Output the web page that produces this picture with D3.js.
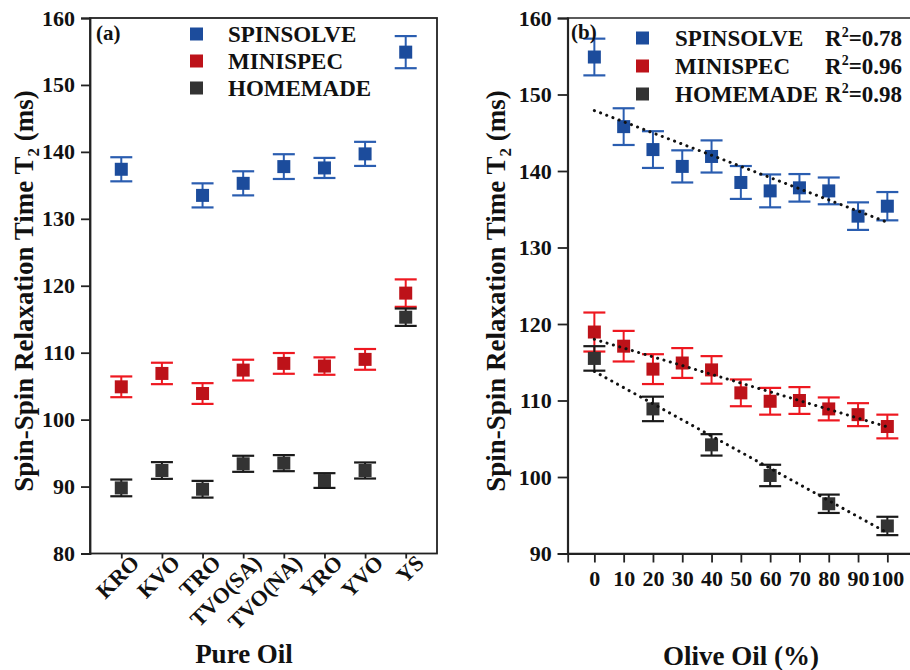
<!DOCTYPE html>
<html>
<head>
<meta charset="utf-8">
<script src="https://cdn.jsdelivr.net/npm/d3@7"></script>
<style>
  body { margin: 0; background: #fff; }
  svg text { font-family: "Liberation Serif", "Times New Roman", serif; font-weight: bold; fill: #111; }
  .axis path, .axis line { stroke: #222; stroke-width: 1.8; }
</style>
</head>
<body>
<div id="chart"></div>
<script>
  // (a) pure oils
  const oils = ["KRO", "KVO", "TRO", "TVO(SA)", "TVO(NA)", "YRO", "YVO", "YS"];
  const pureSpinsolve = [137.4, null, 133.5, 135.3, 137.8, 137.6, 139.7, 154.9];
  const pureSpinsolveErr = [1.8, null, 1.8, 1.8, 1.85, 1.5, 1.8, 2.4];
  const pureMinispec = [104.9, 106.9, 103.9, 107.4, 108.4, 108.0, 109.0, 118.9];
  const pureMinispecErr = [1.55, 1.6, 1.55, 1.55, 1.55, 1.3, 1.55, 2.05];
  const pureHomemade = [89.8, 92.4, 89.6, 93.4, 93.5, 90.9, 92.4, 115.3];
  const pureHomemadeErr = [1.25, 1.25, 1.25, 1.2, 1.2, 1.1, 1.2, 1.3];

  // (b) olive oil blends
  const olive = [0, 10, 20, 30, 40, 50, 60, 70, 80, 90, 100];
  const blendSpinsolve = [154.9, 145.8, 142.8, 140.6, 141.9, 138.5, 137.4, 137.8, 137.4, 134.1, 135.4];
  const blendSpinsolveErr = [2.4, 2.4, 2.4, 2.1, 2.1, 2.15, 2.15, 1.8, 1.75, 1.8, 1.85];
  const blendMinispec = [118.95, 117.1, 114.1, 114.9, 114.0, 111.0, 109.9, 110.0, 108.9, 108.15, 106.6];
  const blendMinispecErr = [2.55, 2.0, 1.95, 1.95, 1.8, 1.75, 1.75, 1.75, 1.5, 1.5, 1.55];
  const oliveHomemade = [0, 20, 40, 60, 80, 100];
  const blendHomemade = [115.5, 108.9, 104.2, 100.2, 96.5, 93.6];
  const blendHomemadeErr = [1.6, 1.6, 1.4, 1.4, 1.2, 1.2];

  // linear fits (value at 0 % and at 100 %)
  const fitStart = [147.9, 118.0, 113.8];
  const fitEnd = [133.3, 106.55, 92.7];
  const rSquared = ["0.78", "0.96", "0.98"];

  const instruments = ["SPINSOLVE", "MINISPEC", "HOMEMADE"];
  const yTicks = [80, 90, 100, 110, 120, 130, 140, 150, 160];
  const oliveTicks = [0, 10, 20, 30, 40, 50, 60, 70, 80, 90, 100];

  const markColor = ["#1c4c9c", "#bd1219", "#333333"];
  const barColor = ["#2a5db0", "#ee1820", "#1a1a1a"];

  const svg = d3.select("#chart").append("svg")
    .attr("width", 910)
    .attr("height", 670);

  // ---------- panel (a) ----------
  const xa = d3.scalePoint().domain(oils).range([90, 437]).padding(0.77);
  const ya = d3.scaleLinear().domain([80, 160]).range([553.5, 18]);

  svg.append("rect")
    .attr("x", 90).attr("y", 18)
    .attr("width", 437 - 90).attr("height", 553.5 - 18)
    .attr("fill", "none").attr("stroke", "#222").attr("stroke-width", 1.8);

  svg.append("g")
    .attr("class", "axis")
    .attr("transform", "translate(90,0)")
    .call(d3.axisLeft(ya).tickValues(yTicks).tickSize(9).tickPadding(6))
    .call(g => g.selectAll("text").style("font-size", "22px"));

  const xAxisA = svg.append("g")
    .attr("class", "axis")
    .attr("transform", "translate(0,553.5)")
    .call(d3.axisBottom(xa).tickSize(5).tickFormat(""));
  xAxisA.select(".domain").remove();

  svg.append("g").selectAll("text")
    .data(oils)
    .join("text")
    .attr("transform", d => "translate(" + (xa(d) + 14) + ",559) rotate(-45)")
    .attr("text-anchor", "end")
    .attr("dy", "0.35em")
    .style("font-size", "22px")
    .text(d => d);

  drawSeries(oils.map((d, i) => ({x: xa(d), v: pureSpinsolve[i], e: pureSpinsolveErr[i]})), ya, 0);
  drawSeries(oils.map((d, i) => ({x: xa(d), v: pureMinispec[i], e: pureMinispecErr[i]})), ya, 1);
  drawSeries(oils.map((d, i) => ({x: xa(d), v: pureHomemade[i], e: pureHomemadeErr[i]})), ya, 2);

  svg.append("text").attr("x", 96).attr("y", 40).style("font-size", "21px").text("(a)");

  instruments.forEach(function (name, i) {
    const cy = 34 + i * 27;
    svg.append("rect")
      .attr("x", 190).attr("y", cy - 6.5).attr("width", 13).attr("height", 13)
      .attr("fill", markColor[i]);
    svg.append("text")
      .attr("x", 228).attr("y", cy + 8)
      .style("font-size", "23px")
      .text(name);
  });

  svg.append("text")
    .attr("transform", "translate(33,291) rotate(-90)")
    .attr("text-anchor", "middle")
    .style("font-size", "27px")
    .call(titleT2);

  svg.append("text")
    .attr("x", 244).attr("y", 663)
    .attr("text-anchor", "middle")
    .style("font-size", "27px")
    .text("Pure Oil");

  // ---------- panel (b) ----------
  const xb = d3.scaleLinear().domain([-9.1, 109.1]).range([567.7, 914]);
  const yb = d3.scaleLinear().domain([90, 160]).range([553.5, 18]);

  svg.append("rect")
    .attr("x", 567.7).attr("y", 18)
    .attr("width", 914 - 567.7).attr("height", 553.5 - 18)
    .attr("fill", "none").attr("stroke", "#333").attr("stroke-width", 1.6);

  svg.append("g")
    .attr("class", "axis")
    .attr("transform", "translate(567.7,0)")
    .call(d3.axisLeft(yb).tickValues(yTicks.slice(1)).tickSize(10).tickPadding(6))
    .call(g => g.selectAll("text").style("font-size", "22px"));

  svg.append("g")
    .attr("class", "axis")
    .attr("transform", "translate(0,553.5)")
    .call(d3.axisBottom(xb).tickValues(oliveTicks).tickSize(9).tickPadding(8))
    .call(g => g.selectAll("text").style("font-size", "22px"));

  drawSeries(olive.map((d, i) => ({x: xb(d), v: blendSpinsolve[i], e: blendSpinsolveErr[i]})), yb, 0);
  drawSeries(olive.map((d, i) => ({x: xb(d), v: blendMinispec[i], e: blendMinispecErr[i]})), yb, 1);
  drawSeries(oliveHomemade.map((d, i) => ({x: xb(d), v: blendHomemade[i], e: blendHomemadeErr[i]})), yb, 2);

  const fit = d3.line().x(d => xb(d[0])).y(d => yb(d[1]));
  fitStart.forEach(function (start, i) {
    svg.append("path")
      .attr("d", fit([[0, start], [100, fitEnd[i]]]))
      .attr("fill", "none")
      .attr("stroke", "#111")
      .attr("stroke-width", 3)
      .attr("stroke-linecap", "round")
      .attr("stroke-dasharray", "0.1,6.5");
  });

  svg.append("text").attr("x", 571).attr("y", 39).style("font-size", "21px").text("(b)");

  instruments.forEach(function (name, i) {
    const cy = 38 + i * 28;
    svg.append("rect")
      .attr("x", 636).attr("y", cy - 6.5).attr("width", 13).attr("height", 13)
      .attr("fill", markColor[i]);
    svg.append("text")
      .attr("x", 675).attr("y", cy + 8)
      .style("font-size", "23px")
      .text(name);
    const r = svg.append("text")
      .attr("x", 902).attr("y", cy + 8)
      .attr("text-anchor", "end")
      .style("font-size", "23px");
    r.append("tspan").text("R");
    r.append("tspan").attr("dy", -9).style("font-size", "14px").text("2");
    r.append("tspan").attr("dy", 9).text("=" + rSquared[i]);
  });

  svg.append("text")
    .attr("transform", "translate(505,291) rotate(-90)")
    .attr("text-anchor", "middle")
    .style("font-size", "27px")
    .call(titleT2);

  svg.append("text")
    .attr("x", 741).attr("y", 665)
    .attr("text-anchor", "middle")
    .style("font-size", "27px")
    .text("Olive Oil (%)");

  function titleT2(text) {
    text.append("tspan").text("Spin-Spin Relaxation Time T");
    text.append("tspan").attr("dy", 6).style("font-size", "17px").text("2");
    text.append("tspan").attr("dy", -6).text(" (ms)");
  }

  function drawSeries(points, y, k) {
    const pts = points.filter(p => p.v != null);
    const g = svg.append("g");
    const capW = 11;

    g.selectAll("line.stem")
      .data(pts)
      .join("line")
      .attr("x1", p => p.x).attr("x2", p => p.x)
      .attr("y1", p => y(p.v + p.e)).attr("y2", p => y(p.v - p.e))
      .attr("stroke", barColor[k]).attr("stroke-width", 2);

    [1, -1].forEach(function (s) {
      g.selectAll(null)
        .data(pts)
        .join("line")
        .attr("x1", p => p.x - capW).attr("x2", p => p.x + capW)
        .attr("y1", p => y(p.v + s * p.e)).attr("y2", p => y(p.v + s * p.e))
        .attr("stroke", barColor[k]).attr("stroke-width", 2.2);
    });

    g.selectAll("rect")
      .data(pts)
      .join("rect")
      .attr("x", p => p.x - 6.5).attr("y", p => y(p.v) - 6.5)
      .attr("width", 13).attr("height", 13)
      .attr("fill", markColor[k]);
  }
</script>
</body>
</html>
